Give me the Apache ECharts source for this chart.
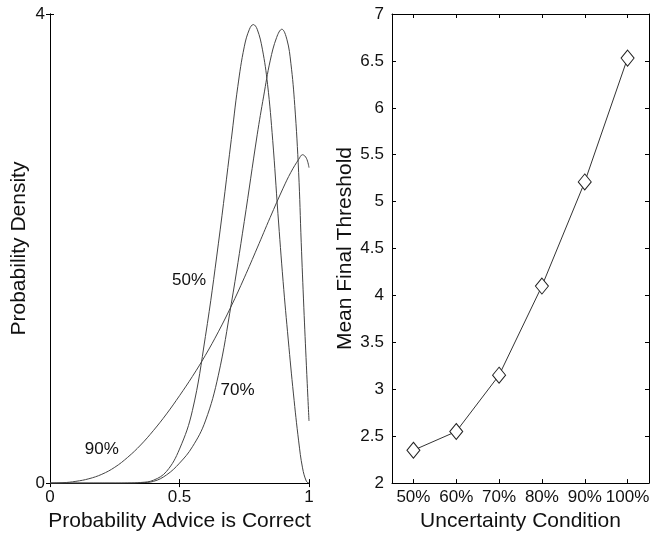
<!DOCTYPE html>
<html>
<head>
<meta charset="utf-8">
<script src="https://cdn.jsdelivr.net/npm/echarts@6/dist/echarts.min.js"></script>
<style>
html,body{margin:0;padding:0;background:#fff;}
#chart{width:653px;height:537px;}
</style>
</head>
<body>
<div id="chart"></div>
<script>
// ---- Left panel: probability density curves ----
var density50 = [[0,0],[0.25,0],[0.3,0.001],[0.35,0.005],[0.4,0.025],[0.45,0.1],[0.5,0.29],[0.55,0.62],[0.6,1.25],[0.65,2.04],[0.7,2.93],[0.725,3.38],[0.75,3.72],[0.77,3.87],[0.785,3.91],[0.8,3.87],[0.82,3.7],[0.84,3.4],[0.86,2.92],[0.88,2.3],[0.9,1.72],[0.92,1.22],[0.94,0.76],[0.96,0.36],[0.975,0.13],[0.99,0.015],[1.0,0]];
var density70 = [[0,0],[0.3,0],[0.35,0.003],[0.4,0.015],[0.45,0.07],[0.5,0.17],[0.55,0.31],[0.6,0.53],[0.65,0.92],[0.7,1.53],[0.75,2.23],[0.8,2.97],[0.825,3.3],[0.85,3.6],[0.875,3.8],[0.895,3.87],[0.915,3.78],[0.93,3.58],[0.945,3.22],[0.96,2.65],[0.97,2.05],[0.98,1.5],[0.99,1.0],[1.0,0.53]];
var density90 = [[0,0],[0.05,0.003],[0.1,0.015],[0.15,0.037],[0.2,0.075],[0.25,0.135],[0.3,0.22],[0.35,0.325],[0.4,0.45],[0.45,0.59],[0.5,0.745],[0.55,0.91],[0.6,1.09],[0.65,1.29],[0.7,1.51],[0.75,1.75],[0.8,2.005],[0.85,2.265],[0.9,2.515],[0.93,2.65],[0.96,2.76],[0.975,2.8],[0.99,2.77],[1.0,2.69]];
var curveLabels = ['50%','70%','90%'];
var curveLabelAt = [[0.537,1.73],[0.724,0.79],[0.2,0.29]];
var leftXTicks = [0,0.5,1];
var leftYTicks = [0,4];

// ---- Right panel: mean final threshold ----
var conditions = ['50%','60%','70%','80%','90%','100%'];
var meanThreshold = [2.35,2.55,3.15,4.10,5.21,6.53];

var FONT = "'Liberation Sans', Arial, Helvetica, sans-serif";
var chart = echarts.init(document.getElementById('chart'), null, {renderer:'canvas'});

function boxAxis(extra){
  return Object.assign({
    axisLine:{show:true,lineStyle:{color:'#000',width:1}},
    axisTick:{show:true,inside:true,length:4,lineStyle:{color:'#000'}},
    splitLine:{show:false},
    axisLabel:{show:false}
  }, extra);
}

var option = {
  backgroundColor:'#fff',
  animation:false,
  grid:[
    {left:50,top:14,width:259,height:472},
    {left:392,top:14,width:257,height:472}
  ],
  xAxis:[
    boxAxis({type:'value',gridIndex:0,min:0,max:1,interval:0.5,position:'bottom',
      axisLabel:{show:true,margin:6,color:'#111',fontFamily:FONT,fontSize:17,
        formatter:function(v){return leftXTicks.indexOf(v)>=0?String(v):'';}},
      name:'Probability Advice is Correct',nameLocation:'middle',nameGap:25,
      nameTextStyle:{color:'#111',fontFamily:FONT,fontSize:21}}),
    boxAxis({type:'value',gridIndex:0,min:0,max:1,interval:0.5,position:'top'}),
    boxAxis({type:'category',gridIndex:1,data:conditions,boundaryGap:true,position:'bottom',
      axisTick:{show:true,inside:true,length:4,alignWithLabel:true,lineStyle:{color:'#000'}},
      axisLabel:{show:true,margin:6,color:'#111',fontFamily:FONT,fontSize:17,interval:0},
      name:'Uncertainty Condition',nameLocation:'middle',nameGap:25,
      nameTextStyle:{color:'#111',fontFamily:FONT,fontSize:21}}),
    boxAxis({type:'category',gridIndex:1,data:conditions,boundaryGap:true,position:'top',
      axisTick:{show:true,inside:true,length:4,alignWithLabel:true,interval:0,lineStyle:{color:'#000'}}})
  ],
  yAxis:[
    boxAxis({type:'value',gridIndex:0,min:0,max:4,interval:4,position:'left',
      axisLabel:{show:true,margin:5,color:'#111',fontFamily:FONT,fontSize:17,
        formatter:function(v){return leftYTicks.indexOf(v)>=0?String(v):'';}},
      name:'Probability Density',nameLocation:'middle',nameGap:20,
      nameTextStyle:{color:'#111',fontFamily:FONT,fontSize:21}}),
    boxAxis({type:'value',gridIndex:0,min:0,max:4,interval:4,position:'right'}),
    boxAxis({type:'value',gridIndex:1,min:2,max:7,interval:0.5,position:'left',
      axisLabel:{show:true,margin:8,color:'#111',fontFamily:FONT,fontSize:17},
      name:'Mean Final Threshold',nameLocation:'middle',nameGap:36,
      nameTextStyle:{color:'#111',fontFamily:FONT,fontSize:21}}),
    boxAxis({type:'value',gridIndex:1,min:2,max:7,interval:0.5,position:'right'})
  ],
  series:[
    {type:'line',xAxisIndex:0,yAxisIndex:0,data:density50,showSymbol:false,smooth:0.4,
      lineStyle:{color:'#444',width:1}},
    {type:'line',xAxisIndex:0,yAxisIndex:0,data:density70,showSymbol:false,smooth:0.4,
      lineStyle:{color:'#444',width:1}},
    {type:'line',xAxisIndex:0,yAxisIndex:0,data:density90,showSymbol:false,smooth:0.4,
      lineStyle:{color:'#444',width:1}},
    {type:'scatter',xAxisIndex:0,yAxisIndex:0,symbolSize:1,silent:true,
      itemStyle:{color:'rgba(0,0,0,0)',opacity:1},
      data:curveLabelAt.map(function(p,i){return {value:p,name:curveLabels[i]};}),
      label:{show:true,position:'inside',formatter:'{b}',color:'#111',opacity:1,fontFamily:FONT,fontSize:17}},
    {type:'line',xAxisIndex:2,yAxisIndex:2,data:meanThreshold,symbol:'diamond',symbolSize:[13,16],
      showAllSymbol:true,
      lineStyle:{color:'#333',width:1},
      itemStyle:{color:'#fff',borderColor:'#222',borderWidth:1}}
  ]
};
chart.setOption(option);
</script>
</body>
</html>
